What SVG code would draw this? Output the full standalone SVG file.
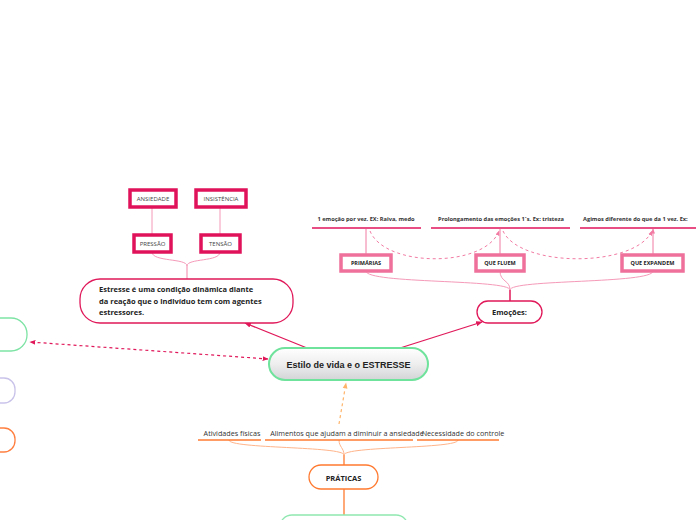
<svg xmlns="http://www.w3.org/2000/svg" width="696" height="520" viewBox="0 0 696 520">
<defs>
<linearGradient id="g" x1="0" y1="0" x2="0" y2="1"><stop offset="0" stop-color="#ffffff"/><stop offset="0.5" stop-color="#eeeeee"/><stop offset="1" stop-color="#d2d4d6"/></linearGradient>
<marker id="ac" viewBox="0 0 10 10" refX="9" refY="5" markerWidth="5" markerHeight="5" orient="auto-start-reverse"><path d="M0,1 L10,5 L0,9 z" fill="#e0185a"/></marker>
<marker id="ap" viewBox="0 0 10 10" refX="9" refY="5" markerWidth="5" markerHeight="5" orient="auto-start-reverse"><path d="M0,1 L10,5 L0,9 z" fill="#f27ba3"/></marker>
<marker id="ao" viewBox="0 0 10 10" refX="9" refY="5" markerWidth="5" markerHeight="5" orient="auto-start-reverse"><path d="M0,1 L10,5 L0,9 z" fill="#ffb46a"/></marker>
</defs>
<style>
text{font-family:"Open Sans","Liberation Sans",sans-serif;}
.box1{fill:#fff;stroke:#e0125a;stroke-width:3.5;}
.box2{fill:#fff;stroke:#f0709c;stroke-width:3.5;}
.t1{font-size:6px;fill:#444;text-anchor:middle;}
.t2{font-size:5.5px;font-weight:700;fill:#222;text-anchor:middle;}
.lab{font-size:5.7px;font-weight:700;fill:#333;text-anchor:middle;}
.bt{font-size:7.2px;fill:#333;text-anchor:middle;}
.ul{stroke:#e0125a;stroke-width:1.5;}
.ulo{stroke:#ff7a30;stroke-width:1.5;}
.cp{fill:none;stroke:#f59ab8;stroke-width:1;}
.co{fill:none;stroke:#ffb48a;stroke-width:1;}
</style>
<g id="connectors">
<path class="cp" d="M152,207 L152,235 M220,207 L220,235"/>
<path class="cp" d="M152,252 C152,262 187,258 187,266 M220,252 C220,262 187,258 187,266"/>
<path d="M187,266 L187,279" stroke="#f59ab8" stroke-width="1.2"/>
<path class="cp" d="M366,271 C366,284 510,279 510,290 M500,271 C500,282 510,280 510,290 M653,271 C653,284 510,279 510,290"/>
<path d="M510,290 L510,301" stroke="#e0185a" stroke-width="1.5"/>
<path d="M366,255 L366,229 M500,255 L500,229 M653,255 L653,229" stroke="#f27ba3" stroke-width="1" fill="none" marker-end="url(#ap)"/>
<path d="M370,231 C385,268 485,268 499,231" fill="none" stroke="#f27ba3" stroke-width="1" stroke-dasharray="3,3" marker-end="url(#ap)"/>
<path d="M503,231 C520,268 635,268 652,231" fill="none" stroke="#f27ba3" stroke-width="1" stroke-dasharray="3,3" marker-end="url(#ap)"/>
<path d="M307,348 L245,323" stroke="#e0185a" stroke-width="1.3" marker-end="url(#ac)"/>
<path d="M400,348 L482,322" stroke="#e0185a" stroke-width="1.3" marker-end="url(#ac)"/>
<path d="M268,359 L30,342" stroke="#e0185a" stroke-width="1.2" stroke-dasharray="3,3" marker-start="url(#ac)" marker-end="url(#ac)"/>
<path d="M339,424 L346,383" stroke="#ffb46a" stroke-width="1.2" stroke-dasharray="3,3" marker-end="url(#ao)"/>
<path class="co" d="M229,440 C229,449 344,446 344,455 M339,440 C339,447 344,448 344,455 M458,440 C458,449 344,446 344,455"/>
<path d="M344,455 L344,465 M344,489 L344,515" stroke="#ff7a30" stroke-width="1.3"/>
</g>
<g id="central">
<rect x="269" y="348" width="159" height="32" rx="16" fill="url(#g)" stroke="#6fe29c" stroke-width="2"/>
<text x="348.5" y="367.5" style="font-family:'Liberation Sans',Arial,sans-serif;font-size:9px;font-weight:700;fill:#222;text-anchor:middle">Estilo de vida e o ESTRESSE</text>
</g>
<g id="estresse">
<rect x="80" y="279" width="213" height="44" rx="20" fill="#fff" stroke="#e0185a" stroke-width="1.3"/>
<text x="99" y="292" style="font-size:7.5px;font-weight:700;fill:#222">Estresse é uma condição dinâmica diante</text>
<text x="99" y="303.5" style="font-size:7.5px;font-weight:700;fill:#222">da reação que o indivíduo tem com agentes</text>
<text x="99" y="315" style="font-size:7.5px;font-weight:700;fill:#222">estressores.</text>
</g>
<g id="ansiedade"><rect class="box1" x="130" y="190" width="46" height="17"/><text class="t1" x="153" y="201">ANSIEDADE</text></g>
<g id="insistencia"><rect class="box1" x="196" y="190" width="50" height="17"/><text class="t1" x="221" y="201">INSISTÊNCIA</text></g>
<g id="pressao"><rect class="box1" x="134" y="235" width="37" height="17"/><text class="t1" x="152.5" y="246">PRESSÃO</text></g>
<g id="tensao"><rect class="box1" x="201" y="235" width="39" height="17"/><text class="t1" x="220.5" y="246">TENSÃO</text></g>
<g id="emocoes">
<rect x="477" y="301" width="65" height="22" rx="11" fill="#fff" stroke="#e0185a" stroke-width="1.3"/>
<text x="509.5" y="314.5" style="font-size:7.5px;font-weight:700;fill:#222;text-anchor:middle">Emoções:</text>
</g>
<g id="primarias"><rect class="box2" x="341" y="255" width="50" height="16"/><text class="t2" x="366" y="265">PRIMÁRIAS</text></g>
<g id="quefluem"><rect class="box2" x="476" y="255" width="48" height="16"/><text class="t2" x="500" y="265">QUE FLUEM</text></g>
<g id="queexpandem"><rect class="box2" x="622" y="255" width="61" height="16"/><text class="t2" x="652.5" y="265">QUE EXPANDEM</text></g>
<g id="lab1"><text class="lab" x="366" y="221">1 emoção por vez. EX: Raiva, medo</text><line class="ul" x1="312" y1="228" x2="421" y2="228"/></g>
<g id="lab2"><text class="lab" x="501" y="221">Prolongamento das emoções 1´s. Ex: tristeza</text><line class="ul" x1="431" y1="228" x2="570" y2="228"/></g>
<g id="lab3"><text class="lab" x="583" y="221" style="text-anchor:start">Agimos diferente do que da 1 vez. Ex:</text><line class="ul" x1="580" y1="228" x2="700" y2="228"/></g>
<g id="atividades"><text class="bt" x="232" y="436">Atividades físicas</text><line class="ulo" x1="198" y1="440" x2="261" y2="440"/></g>
<g id="alimentos"><text class="bt" x="347" y="436">Alimentos que ajudam a diminuir a ansiedade</text><line class="ulo" x1="265" y1="440" x2="413" y2="440"/></g>
<g id="necessidade"><text class="bt" x="463" y="436">Necessidade do controle</text><line class="ulo" x1="417" y1="440" x2="499" y2="440"/></g>
<g id="praticas">
<rect x="309" y="465" width="69" height="24" rx="12" fill="#fff" stroke="#ff7a30" stroke-width="1.3"/>
<text x="343.5" y="480.5" style="font-size:7.5px;font-weight:700;fill:#222;text-anchor:middle">PRÁTICAS</text>
</g>
<g id="bottom-green"><rect x="280" y="515" width="128" height="24" rx="12" fill="#fff" stroke="#90e8b0" stroke-width="1.3"/></g>
<g id="left-green"><rect x="-20" y="318" width="47" height="33" rx="16" fill="#fff" stroke="#7de3a4" stroke-width="1.3"/></g>
<g id="left-purple"><rect x="-30" y="378" width="45" height="25" rx="11" fill="#fff" stroke="#c9c3ea" stroke-width="1.3"/></g>
<g id="left-orange"><rect x="-30" y="428" width="45" height="24" rx="11" fill="#fff" stroke="#ff7f40" stroke-width="1.3"/></g>
</svg>
